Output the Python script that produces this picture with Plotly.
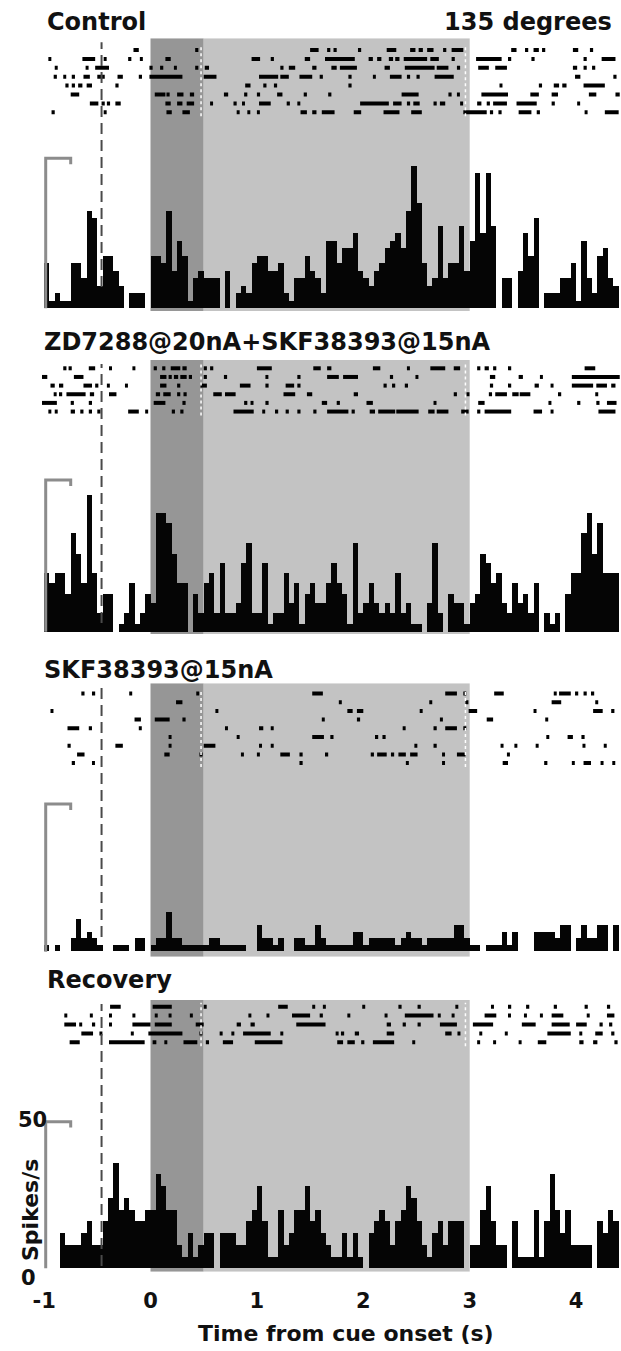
import plotly.graph_objects as go

W, H = 621, 1351
BIN_START = -1.0
BIN_WIDTH = 0.05

# ---------------- histogram data (spikes/s, 50 ms bins from -1.0 s) ----------------
control_rate = [15, 2.5, 5, 2.5, 2.5, 15, 15, 10, 32.5, 30,
                7.5, 17.5, 17.5, 12.5, 7.5, 0, 5, 5, 5, 0,
                17.5, 17.5, 15, 32.5, 12.5, 22.5, 17.5, 2.5, 10, 12.5,
                10, 10, 10, 0, 12.5, 0, 5, 7.5, 5, 15,
                17.5, 17.5, 12.5, 12.5, 15, 5, 2.5, 10, 10, 17.5,
                12.5, 10, 5, 22.5, 22.5, 15, 20, 20, 25, 12.5,
                10, 7.5, 12.5, 15, 20, 22.5, 25, 20, 32.5, 47.5,
                35, 15, 7.5, 10, 27.5, 10, 15, 15, 27.5, 12.5,
                22.5, 45, 25, 45, 27.5, 0, 10, 10, 0, 12.5,
                25, 17.5, 30, 0, 5, 5, 5, 10, 10, 15,
                2.5, 22.5, 10, 5, 17.5, 20, 10, 7.5]

zd_rate = [19.3, 16.0, 19.3, 19.3, 12.4, 32.5, 25.5, 16.0, 45.1, 19.3,
           6.1, 12.4, 12.4, 0, 2.5, 6.1, 16.0, 2.5, 6.1, 12.4,
           9.6, 39.1, 39.1, 35.8, 25.5, 16.0, 16.0, 0, 12.4, 6.1,
           16.0, 19.3, 6.1, 22.7, 6.1, 6.1, 9.6, 22.7, 29.2, 6.1,
           6.1, 22.7, 2.5, 6.1, 6.1, 19.3, 9.6, 16.0, 2.5, 12.4,
           16.0, 9.6, 9.6, 16.0, 22.7, 16.0, 12.4, 2.5, 29.2, 6.1,
           9.6, 16.0, 9.6, 6.1, 9.6, 6.1, 19.3, 6.1, 9.6, 2.5,
           2.5, 0, 9.6, 29.2, 6.1, 0, 12.4, 9.6, 9.6, 2.5,
           9.6, 12.4, 25.5, 22.7, 16.0, 19.3, 9.6, 6.1, 16.0, 9.6,
           12.4, 6.1, 16.0, 0, 6.1, 2.5, 6.1, 0, 12.4, 19.3,
           19.3, 32.5, 39.1, 25.5, 35.8, 19.3, 19.3, 19.3]

skf_rate = [2.22, 0, 2.22, 0, 0, 4.44, 11.1, 4.44, 6.67, 4.44,
            2.22, 0, 0, 2.22, 2.22, 2.22, 0, 4.44, 4.44, 0,
            2.22, 4.44, 4.44, 13.3, 4.44, 4.44, 2.22, 2.22, 2.22, 2.22,
            2.22, 4.44, 4.44, 2.22, 2.22, 2.22, 2.22, 2.22, 0, 0,
            8.89, 4.44, 4.44, 2.22, 4.44, 0, 0, 4.44, 4.44, 2.22,
            2.22, 8.89, 4.44, 2.22, 2.22, 2.22, 2.22, 2.22, 6.67, 6.67,
            2.22, 4.44, 4.44, 4.44, 4.44, 4.44, 2.22, 4.44, 6.67, 4.44,
            4.44, 2.22, 4.44, 4.44, 4.44, 4.44, 4.44, 8.89, 8.89, 4.44,
            2.22, 2.22, 0, 2.22, 2.22, 2.22, 6.67, 2.22, 6.67, 0,
            0, 0, 6.67, 6.67, 6.67, 6.67, 4.44, 8.89, 8.89, 0,
            4.44, 8.89, 4.44, 4.44, 8.89, 8.89, 0, 8.89]

recovery_rate = [0, 0, 0, 12, 8, 8, 8, 12, 16, 8,
                 8, 16, 24, 36, 20, 24, 20, 16, 16, 20,
                 20, 32, 28, 20, 20, 8, 4, 12, 4, 8,
                 12, 12, 0, 12, 12, 12, 8, 8, 16, 20,
                 28, 16, 4, 4, 20, 8, 12, 20, 20, 28,
                 16, 20, 12, 8, 4, 4, 12, 4, 12, 4,
                 0, 12, 16, 20, 16, 8, 16, 20, 28, 24,
                 16, 8, 4, 12, 16, 8, 16, 16, 16, 0,
                 8, 8, 20, 28, 16, 8, 8, 0, 16, 4,
                 4, 4, 20, 4, 16, 32, 20, 12, 20, 8,
                 8, 8, 8, 0, 16, 12, 20, 16]

# ---------------- raster data: per trial, [start, end] of spike marks (s) ----------------
control_raster = [
    [[-0.16, -0.11], [0.42, 0.45], [1.50, 1.58], [1.66, 1.69], [1.72, 1.75], [1.95, 1.98], [2.22, 2.31],
     [2.44, 2.49], [2.52, 2.56], [2.60, 2.66], [2.75, 2.78], [2.83, 2.94], [3.39, 3.44], [3.52, 3.55],
     [3.60, 3.65], [3.68, 3.71], [3.97, 4.02], [4.13, 4.16]],
    [[-0.96, -0.94], [-0.64, -0.52], [-0.44, -0.42], [-0.21, -0.18], [-0.10, -0.08], [0.14, 0.19],
     [0.95, 1.03], [1.13, 1.16], [1.45, 1.50], [1.64, 1.92], [2.05, 2.09], [2.13, 2.17], [2.24, 2.28],
     [2.30, 2.34], [2.38, 2.60], [2.63, 2.71], [2.83, 2.86], [3.06, 3.30], [3.36, 3.39], [3.58, 3.61],
     [4.07, 4.10], [4.24, 4.37]],
    [[-0.90, -0.88], [-0.61, -0.59], [-0.52, -0.39], [-0.01, 0.02], [0.09, 0.12], [0.22, 0.24],
     [0.42, 0.45], [0.51, 0.55], [1.22, 1.25], [1.30, 1.36], [1.52, 1.56], [1.70, 1.75], [1.78, 1.94],
     [2.20, 2.25], [2.39, 2.67], [2.69, 2.80], [2.88, 2.91], [3.08, 3.18], [3.24, 3.35], [3.97, 4.01],
     [4.07, 4.10], [4.15, 4.18]],
    [[-0.91, -0.88], [-0.82, -0.80], [-0.74, -0.71], [-0.63, -0.57], [-0.50, -0.43], [-0.31, -0.26],
     [-0.11, -0.08], [-0.01, 0.30], [0.50, 0.62], [1.02, 1.20], [1.22, 1.30], [1.40, 1.52], [1.59, 1.62],
     [1.86, 1.89], [2.09, 2.11], [2.25, 2.36], [2.41, 2.44], [2.50, 2.53], [2.67, 2.85], [3.99, 4.04],
     [4.35, 4.38]],
    [[-0.80, -0.77], [-0.74, -0.71], [-0.68, -0.64], [-0.60, -0.55], [-0.33, -0.30], [0.89, 0.94],
     [1.06, 1.09], [1.16, 1.19], [1.86, 1.89], [3.28, 3.30], [3.65, 3.68], [3.79, 3.84], [3.87, 3.91],
     [4.07, 4.27]],
    [[-0.75, -0.67], [0.04, 0.14], [0.15, 0.18], [0.25, 0.31], [0.37, 0.41], [0.69, 0.73], [0.88, 0.91],
     [1.00, 1.03], [1.19, 1.24], [1.44, 1.47], [1.67, 1.70], [2.36, 2.52], [2.80, 2.83], [2.88, 2.89],
     [3.11, 3.36], [3.57, 3.65], [3.77, 3.83], [4.12, 4.19], [4.37, 4.41]],
    [[-0.57, -0.49], [-0.46, -0.43], [-0.41, -0.38], [-0.33, -0.28], [0.14, 0.19], [0.25, 0.30],
     [0.34, 0.41], [0.56, 0.58], [0.78, 0.81], [0.86, 0.88], [1.02, 1.13], [1.28, 1.31], [1.38, 1.40],
     [1.97, 2.24], [2.28, 2.36], [2.41, 2.44], [2.47, 2.53], [2.66, 2.69], [2.72, 2.77], [2.91, 2.93],
     [3.07, 3.11], [3.16, 3.19], [3.22, 3.35], [3.44, 3.63], [3.77, 3.80], [4.01, 4.02]],
    [[-0.93, -0.90], [-0.44, -0.42], [0.15, 0.20], [0.30, 0.37], [0.81, 0.83], [0.91, 0.92], [1.00, 1.02],
     [1.41, 1.47], [1.52, 1.56], [1.61, 1.73], [1.91, 1.98], [2.19, 2.34], [2.45, 2.55], [2.94, 3.16],
     [3.19, 3.22], [3.27, 3.30], [3.46, 3.58], [3.63, 3.66], [4.08, 4.10], [4.27, 4.40]],
]

zd_raster = [
    [[-0.82, -0.79], [-0.77, -0.74], [-0.58, -0.52], [-0.39, -0.38], [-0.17, -0.15], [0.03, 0.06],
     [0.11, 0.14], [0.19, 0.28], [0.30, 0.34], [0.50, 0.53], [0.56, 0.59], [1.00, 1.14], [1.53, 1.60],
     [1.66, 1.70], [2.09, 2.16], [2.41, 2.42], [2.63, 2.77], [2.85, 2.91], [3.07, 3.10], [3.14, 3.18],
     [3.22, 3.25], [3.36, 3.39], [4.08, 4.18]],
    [[-1.02, -0.97], [-0.72, -0.63], [0.09, 0.15], [0.17, 0.20], [0.22, 0.26], [0.28, 0.34], [0.36, 0.39],
     [0.50, 0.53], [0.69, 0.72], [1.08, 1.10], [1.38, 1.41], [1.66, 1.77], [1.81, 1.95], [2.25, 2.28],
     [2.49, 2.50], [3.19, 3.24], [3.46, 3.50], [3.66, 3.68], [3.96, 4.41]],
    [[-0.94, -0.90], [-0.86, -0.82], [-0.63, -0.55], [-0.52, -0.49], [-0.41, -0.39], [-0.24, -0.22],
     [0.09, 0.15], [0.25, 0.28], [0.47, 0.53], [0.84, 0.94], [1.08, 1.11], [1.27, 1.35], [1.38, 1.41],
     [2.19, 2.22], [2.27, 2.30], [2.39, 2.42], [3.19, 3.22], [3.36, 3.39], [3.61, 3.65], [3.76, 3.77],
     [3.96, 4.16], [4.19, 4.29], [4.33, 4.37]],
    [[-0.91, -0.89], [-0.86, -0.83], [-0.79, -0.61], [-0.57, -0.53], [-0.39, -0.32], [0.05, 0.09],
     [0.12, 0.19], [0.25, 0.28], [0.31, 0.34], [0.59, 0.67], [0.70, 0.80], [1.25, 1.36], [1.47, 1.52],
     [1.91, 1.95], [2.85, 2.88], [2.97, 2.99], [3.18, 3.21], [3.24, 3.35], [3.40, 3.46], [3.47, 3.57],
     [3.83, 3.86], [4.18, 4.19]],
    [[-1.02, -0.88], [-0.75, -0.72], [-0.58, -0.55], [0.03, 0.14], [0.30, 0.33], [0.88, 0.91], [0.94, 0.96],
     [1.08, 1.11], [1.61, 1.66], [1.75, 1.78], [2.03, 2.09], [2.66, 2.67], [3.08, 3.14], [3.74, 3.76],
     [4.01, 4.04], [4.19, 4.22], [4.29, 4.38]],
    [[-0.96, -0.94], [-0.90, -0.88], [-0.75, -0.71], [-0.66, -0.63], [-0.58, -0.55], [-0.50, -0.47],
     [-0.21, -0.11], [-0.05, -0.03], [0.20, 0.23], [0.28, 0.31], [0.78, 0.97], [1.05, 1.06], [1.17, 1.20],
     [1.27, 1.30], [1.38, 1.41], [1.53, 1.56], [1.66, 1.86], [1.89, 1.92], [2.06, 2.11], [2.14, 2.30],
     [2.31, 2.52], [2.61, 2.67], [2.69, 2.80], [2.92, 2.99], [3.07, 3.10], [3.14, 3.39], [3.60, 3.68],
     [3.76, 3.77], [4.21, 4.37]],
]

skf_raster = [
    [[-0.65, -0.62], [-0.55, -0.52], [-0.20, -0.18], [0.43, 0.44], [1.52, 1.62], [2.77, 2.88], [2.94, 2.96],
     [3.23, 3.32], [3.79, 3.81], [3.84, 3.95], [3.99, 4.02], [4.07, 4.10], [4.14, 4.17]],
    [[0.24, 0.30], [1.77, 1.79], [2.62, 2.64], [2.96, 2.97], [3.77, 3.86], [4.18, 4.19]],
    [[-0.94, -0.92], [0.61, 0.63], [1.85, 1.90], [1.94, 2.00], [2.53, 2.55], [2.99, 3.07], [3.60, 3.62],
     [4.16, 4.25], [4.33, 4.36]],
    [[-0.15, -0.09], [0.04, 0.18], [0.30, 0.33], [1.61, 1.63], [1.94, 1.97], [2.72, 2.74], [3.16, 3.22],
     [3.71, 3.73]],
    [[-0.78, -0.67], [-0.58, -0.55], [-0.11, -0.09], [0.70, 0.72], [1.02, 1.06], [1.13, 1.14], [2.37, 2.38],
     [2.66, 2.69], [2.77, 2.88], [2.94, 2.96]],
    [[0.17, 0.19], [0.81, 0.83], [1.52, 1.63], [1.69, 1.72], [2.11, 2.14], [2.18, 2.21], [3.72, 3.74],
     [3.92, 3.97], [4.05, 4.08]],
    [[-0.78, -0.75], [-0.33, -0.26], [0.17, 0.18], [0.50, 0.61], [1.02, 1.04], [1.13, 1.14], [2.48, 2.50],
     [2.66, 2.69], [3.29, 3.31], [3.42, 3.44], [3.62, 3.64], [4.06, 4.08], [4.26, 4.28]],
    [[-0.69, -0.62], [0.13, 0.18], [0.46, 0.49], [0.85, 0.87], [1.00, 1.01], [1.22, 1.31], [1.40, 1.43],
     [1.64, 1.67], [2.07, 2.10], [2.13, 2.22], [2.26, 2.29], [2.33, 2.40], [2.44, 2.51], [2.74, 2.76],
     [2.88, 2.96], [3.35, 3.37]],
    [[-0.74, -0.71], [-0.55, -0.54], [1.40, 1.43], [2.40, 2.42], [2.74, 2.76], [3.31, 3.36], [3.70, 3.73],
     [3.96, 3.98], [4.07, 4.14], [4.23, 4.25], [4.34, 4.36]],
]

recovery_raster = [
    [[-0.38, -0.28], [0.02, 0.20], [0.50, 0.52], [1.20, 1.29], [1.52, 1.545], [1.62, 1.645], [1.99, 2.01],
     [2.33, 2.36], [2.51, 2.54], [2.865, 2.885], [3.20, 3.22], [3.36, 3.39], [3.53, 3.56], [3.79, 3.82],
     [4.08, 4.11], [4.29, 4.32]],
    [[-0.81, -0.795], [-0.57, -0.555], [-0.39, -0.37], [-0.17, -0.15], [0.04, 0.055], [0.17, 0.185],
     [0.37, 0.39], [0.92, 0.94], [1.09, 1.105], [1.33, 1.50], [1.59, 1.62], [1.85, 1.87], [2.20, 2.22],
     [2.39, 2.66], [2.70, 2.72], [2.83, 2.85], [3.14, 3.25], [3.36, 3.37], [3.51, 3.53], [3.66, 3.68],
     [3.77, 3.88], [4.10, 4.12], [4.29, 4.36]],
    [[-0.81, -0.70], [-0.67, -0.65], [-0.55, -0.52], [-0.39, -0.37], [-0.17, 0.00], [0.04, 0.20],
     [0.425, 0.50], [0.81, 0.85], [0.94, 0.98], [1.37, 1.645], [2.22, 2.26], [2.37, 2.40], [2.51, 2.54],
     [2.72, 2.88], [3.03, 3.22], [3.49, 3.62], [3.77, 3.94], [4.00, 4.10], [4.22, 4.25], [4.31, 4.34]],
    [[-0.65, -0.54], [-0.48, -0.465], [-0.185, -0.17], [-0.02, 0.30], [0.46, 0.48], [0.65, 0.665],
     [0.76, 0.78], [0.87, 1.13], [1.22, 1.24], [1.74, 1.755], [1.79, 1.82], [1.92, 1.96], [2.22, 2.29],
     [2.77, 2.83], [2.885, 2.905], [3.09, 3.105], [3.33, 3.35], [3.73, 3.95], [4.03, 4.05], [4.18, 4.25],
     [4.33, 4.36]],
    [[-0.76, -0.665], [-0.39, -0.055], [0.02, 0.055], [0.13, 0.15], [0.31, 0.44], [0.52, 0.55],
     [0.68, 0.776], [0.98, 1.24], [1.755, 1.81], [1.85, 1.92], [1.98, 2.01], [2.09, 2.29], [2.46, 2.48],
     [3.07, 3.09], [3.22, 3.24], [3.46, 3.475], [3.64, 3.72], [4.03, 4.07], [4.16, 4.20], [4.36, 4.39]],
]

panel_titles = ["Control", "ZD7288@20nA+SKF38393@15nA", "SKF38393@15nA", "Recovery"]
direction_label = "135 degrees"
xtick_vals = [-1, 0, 1, 2, 3, 4]
xtick_text = ["-1", "0", "1", "2", "3", "4"]
x_title = "Time from cue onset (s)"
y_title = "Spikes/s"
scale_value = 50

# event times (s)
cue_on, cue_off, delay_end, pre_line = 0.0, 0.5, 3.0, -0.46
marker_cols = [0.475, 2.96]   # white dotted sync marks in the rasters

# ---------------- layout geometry (pixels from top of page) ----------------
geom = [
    dict(top=38.3, bottom=311.0, base=308.3, s50=158.3, row0=50.0, drow=8.9, dash_end=287, title_y=21.7, title_x=45),
    dict(top=360.0, bottom=634.0, base=631.7, s50=480.0, row0=368.3, drow=8.65, dash_end=623, title_y=341.7, title_x=41.5),
    dict(top=683.3, bottom=956.7, base=951.7, s50=804.0, row0=693.5, drow=8.7, dash_end=937, title_y=670.0, title_x=42),
    dict(top=1000.0, bottom=1271.7, base=1268.3, s50=1121.7, row0=1006.7, drow=8.9, dash_end=1266, title_y=980.0, title_x=45),
]
rates = [control_rate, zd_rate, skf_rate, recovery_rate]
rasters = [control_raster, zd_raster, skf_raster, recovery_raster]

px_per_s = 106.4
x_zero_px = 150.5
x_range = [-x_zero_px / px_per_s, (W - x_zero_px) / px_per_s]

FONT = "DejaVu Sans"
fig = go.Figure()
shapes = []
annotations = []
layout_axes = {}

for i, (g, rate, raster, title) in enumerate(zip(geom, rates, rasters, panel_titles)):
    n = i + 1
    yname = "y" if n == 1 else f"y{n}"
    axname = "yaxis" if n == 1 else f"yaxis{n}"
    k = (g["base"] - g["s50"]) / scale_value
    yr = [-(g["bottom"] - g["base"]) / k, (g["base"] - g["top"]) / k]
    layout_axes[axname] = dict(domain=[1 - g["bottom"] / H, 1 - g["top"] / H], range=yr,
                               visible=False, fixedrange=True)

    # shading
    shapes.append(dict(type="rect", xref="x", yref=yname, x0=cue_on, x1=cue_off, y0=yr[0], y1=yr[1],
                       fillcolor="#969696", line=dict(width=0), layer="below"))
    shapes.append(dict(type="rect", xref="x", yref=yname, x0=cue_off, x1=delay_end, y0=yr[0], y1=yr[1],
                       fillcolor="#c3c3c3", line=dict(width=0), layer="below"))
    # dashed reference line
    shapes.append(dict(type="line", xref="x", yref=yname, x0=pre_line, x1=pre_line,
                       y0=(g["base"] - g["dash_end"]) / k, y1=(g["base"] - g["top"] - 4) / k,
                       line=dict(color="#4a4a4a", width=2, dash="11px,6px"), layer="above"))

    # histogram
    centers = [BIN_START + BIN_WIDTH * (j + 0.5) for j in range(len(rate))]
    fig.add_trace(go.Bar(x=centers, y=rate, width=BIN_WIDTH, marker=dict(color="#050505", line=dict(width=0)),
                         xaxis="x", yaxis=yname, showlegend=False, hoverinfo="skip"))

    # scale bar
    fig.add_trace(go.Scatter(x=[-0.985, -0.985, -0.75, -0.75], y=[0, scale_value, scale_value, scale_value - 2],
                             mode="lines", line=dict(color="#8c8c8c", width=3), xaxis="x", yaxis=yname,
                             showlegend=False, hoverinfo="skip"))

    # raster
    xs, ys = [], []
    for r, row in enumerate(raster):
        yv = (g["base"] - (g["row0"] + r * g["drow"])) / k
        for a, b in row:
            xs += [a, max(b, a + 0.028), None]
            ys += [yv, yv, None]
    fig.add_trace(go.Scatter(x=xs, y=ys, mode="lines", line=dict(color="#000000", width=4),
                             xaxis="x", yaxis=yname, showlegend=False, hoverinfo="skip", connectgaps=False))

    # white dotted sync columns through the raster rows
    y_r_top = (g["base"] - (g["row0"] - 4)) / k
    y_r_bot = (g["base"] - (g["row0"] + (len(raster) - 1) * g["drow"] + 4)) / k
    for xc in marker_cols:
        shapes.append(dict(type="line", xref="x", yref=yname, x0=xc, x1=xc, y0=y_r_bot, y1=y_r_top,
                           line=dict(color="#ffffff", width=1.5, dash="dot"), layer="above"))

    annotations.append(dict(text=title, xref="paper", yref="paper", x=g["title_x"] / W, y=1 - g["title_y"] / H,
                            xanchor="left", yanchor="middle", showarrow=False,
                            font=dict(family=FONT, size=24, color="#111111", weight="bold")))

annotations.append(dict(text=direction_label, xref="paper", yref="paper", x=614 / W, y=1 - 21.7 / H,
                        xanchor="right", yanchor="middle", showarrow=False,
                        font=dict(family=FONT, size=24, color="#111111", weight="bold")))
annotations.append(dict(text=x_title, xref="paper", yref="paper", x=346 / W, y=1 - 1333 / H,
                        xanchor="center", yanchor="middle", showarrow=False,
                        font=dict(family=FONT, size=22, color="#111111", weight="bold")))
annotations.append(dict(text=y_title, xref="paper", yref="paper", x=30 / W, y=1 - 1210 / H, textangle=-90,
                        xanchor="center", yanchor="middle", showarrow=False,
                        font=dict(family=FONT, size=22, color="#111111", weight="bold")))
annotations.append(dict(text=str(scale_value), xref="paper", yref="paper", x=32 / W, y=1 - 1120 / H,
                        xanchor="center", yanchor="middle", showarrow=False,
                        font=dict(family=FONT, size=21, color="#111111", weight="bold")))
annotations.append(dict(text="0", xref="paper", yref="paper", x=28 / W, y=1 - 1278 / H,
                        xanchor="center", yanchor="middle", showarrow=False,
                        font=dict(family=FONT, size=21, color="#111111", weight="bold")))

fig.update_layout(
    width=W, height=H, margin=dict(l=0, r=0, t=0, b=0),
    paper_bgcolor="white", plot_bgcolor="rgba(0,0,0,0)",
    bargap=0, barmode="overlay", showlegend=False,
    font=dict(family=FONT, color="#111111"),
    xaxis=dict(domain=[0, 1], range=x_range, anchor="y4", showgrid=False, zeroline=False, showline=False,
               ticks="", tickvals=xtick_vals, ticktext=xtick_text, ticklabelstandoff=14,
               tickfont=dict(family=FONT, size=21, color="#111111", weight="bold"), fixedrange=True),
    shapes=shapes, annotations=annotations,
    **layout_axes,
)

fig.write_html("out.html", config={"displayModeBar": False},
               post_script="document.body.style.margin='0';document.body.style.overflow='hidden';")
